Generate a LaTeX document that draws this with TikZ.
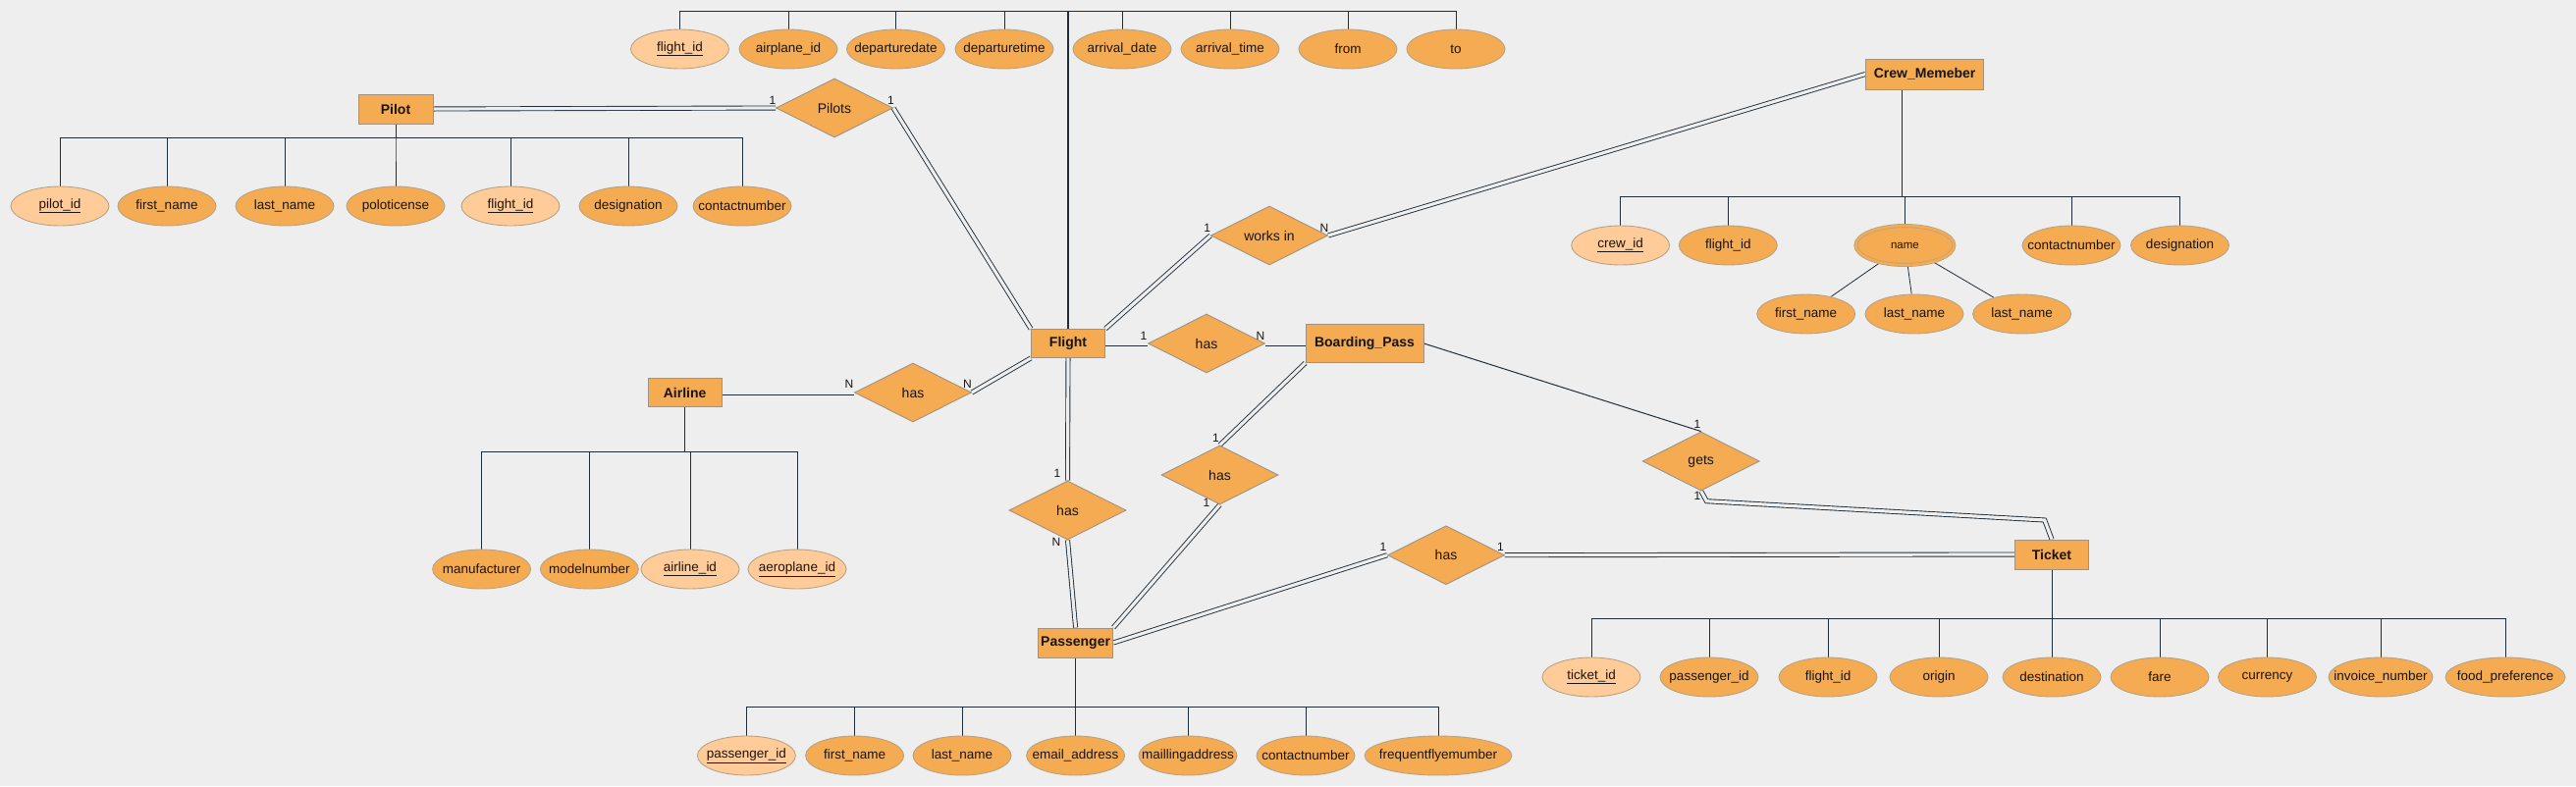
\documentclass[tikz,border=0pt]{standalone}
\usepackage{fontspec}
\setmainfont{Liberation Sans}
\usetikzlibrary{shapes.geometric}
\pgfdeclarelayer{back}
\pgfdeclarelayer{edges}
\pgfsetlayers{back,edges,main}
\definecolor{bgc}{HTML}{EEEEEE}
\definecolor{attrc}{HTML}{F4AB51}
\definecolor{keyc}{HTML}{FFCC99}
\definecolor{boxc}{HTML}{A09282}
\definecolor{ellc}{HTML}{B8A284}
\definecolor{linec}{HTML}{1F2D3A}
\definecolor{txtc}{HTML}{1A1410}
\newcommand\attrtxt[1]{\makebox[0pt]{#1}}
\tikzset{
  entity/.style={draw=boxc, fill=attrc, rectangle, inner sep=0pt, line width=0.9pt,
    font=\fontsize{14}{16}\selectfont\bfseries, text=txtc},
  rel/.style={draw=boxc, fill=attrc, diamond, aspect=2, inner sep=0pt, line width=0.9pt,
    minimum width=119pt, minimum height=60pt, font=\fontsize{14}{16}\selectfont, text=txtc},
  attr/.style={draw=ellc, fill=attrc, ellipse, inner sep=0pt, line width=0.9pt,
    minimum width=100pt, minimum height=40pt, font=\fontsize{13.5}{16}\selectfont, text=txtc},
  key/.style={attr, fill=keyc},
  card/.style={inner sep=0pt, font=\fontsize{12}{14}\selectfont, text=txtc},
  dbl/.style={draw=linec, line width=0.9pt, double=bgc, double distance=3.2pt},
  sgl/.style={draw=linec, line width=1pt},
}
\begin{document}
\begin{tikzpicture}[x=1pt,y=-1pt]
\begin{pgfonlayer}{back}
\fill[bgc] (0,0) rectangle (2624,801);
\end{pgfonlayer}
\useasboundingbox (0,0) rectangle (2624,801);

% ---------- entities ----------
\node[entity, minimum width=76pt, minimum height=30pt] (pilot) at (403,111) {Pilot};
\node[entity, minimum width=75pt, minimum height=29pt] (flight) at (1088,350) {Flight};
\node[entity, minimum width=120pt, minimum height=31pt] (crew) at (1960.6,75.5) {Crew\_Memeber};
\node[entity, minimum width=75pt, minimum height=29pt] (airline) at (697.6,400) {Airline};
\node[entity, minimum width=120pt, minimum height=39pt] (bpass) at (1390,350) {Boarding\_Pass};
\node[entity, minimum width=76pt, minimum height=30pt] (pass) at (1095.6,655) {Passenger};
\node[entity, minimum width=75pt, minimum height=30pt] (ticket) at (2090,565) {Ticket};

% ---------- relationships ----------
\node[rel] (pilots) at (850,110) {Pilots};
\node[rel] (worksin) at (1293,240) {works in};
\node[rel] (hasfb) at (1229,350) {has};
\node[rel] (hasaf) at (930,400) {has};
\node[rel] (hasfp) at (1087.5,520) {has};
\node[rel] (hasbp) at (1242.5,484) {has};
\node[rel] (gets) at (1732.7,470) {gets};
\node[rel] (haspt) at (1473,565.7) {has};

% ---------- flight attributes ----------
\node[key]  (fa0) at (692.5,50) {\attrtxt{\underline{flight\_id}}};
\node[attr] (fa1) at (803,50) {\attrtxt{airplane\_id}};
\node[attr] (fa2) at (912.5,50) {\attrtxt{departuredate}};
\node[attr] (fa3) at (1023,50) {\attrtxt{departuretime}};
\node[attr] (fa4) at (1143,50) {\attrtxt{arrival\_date}};
\node[attr] (fa5) at (1253,50) {\attrtxt{arrival\_time}};
\node[attr] (fa6) at (1373,50) {\attrtxt{from}};
\node[attr] (fa7) at (1483,50) {\attrtxt{to}};

% ---------- pilot attributes ----------
\node[key]  (pa0) at (61,210) {\attrtxt{\underline{pilot\_id}}};
\node[attr] (pa1) at (170,210) {\attrtxt{first\_name}};
\node[attr] (pa2) at (290,210) {\attrtxt{last\_name}};
\node[attr] (pa3) at (403,210) {\attrtxt{poloticense}};
\node[key]  (pa4) at (520,210) {\attrtxt{\underline{flight\_id}}};
\node[attr] (pa5) at (640,210) {\attrtxt{designation}};
\node[attr] (pa6) at (756,210) {\attrtxt{contactnumber}};

% ---------- crew attributes ----------
\node[key]  (ca0) at (1650.7,250) {\attrtxt{\underline{crew\_id}}};
\node[attr] (ca1) at (1760.3,250) {\attrtxt{flight\_id}};
\node[attr, minimum width=100pt, double=attrc, double distance=2.4pt, line width=0.8pt] (ca2) at (1940.4,250) {\attrtxt{\fontsize{11.5}{13}\selectfont name}};
\node[attr] (ca3) at (2110,250) {\attrtxt{contactnumber}};
\node[attr] (ca4) at (2220.5,250) {\attrtxt{designation}};
\node[attr] (cn0) at (1839.7,320) {\attrtxt{first\_name}};
\node[attr] (cn1) at (1950,320) {\attrtxt{last\_name}};
\node[attr] (cn2) at (2059.6,320) {\attrtxt{last\_name}};

% ---------- airline attributes ----------
\node[attr] (aa0) at (490.6,580) {\attrtxt{manufacturer}};
\node[attr] (aa1) at (600.4,580) {\attrtxt{modelnumber}};
\node[key]  (aa2) at (703,580) {\attrtxt{\underline{airline\_id}}};
\node[key]  (aa3) at (812,580) {\attrtxt{\underline{aeroplane\_id}}};

% ---------- passenger attributes ----------
\node[key]  (sa0) at (760.4,770) {\attrtxt{\underline{passenger\_id}}};
\node[attr] (sa1) at (870.6,770) {\attrtxt{first\_name}};
\node[attr] (sa2) at (980,770) {\attrtxt{last\_name}};
\node[attr] (sa3) at (1095.6,770) {\attrtxt{email\_address}};
\node[attr] (sa4) at (1210,770) {\attrtxt{maillingaddress}};
\node[attr] (sa5) at (1330,770) {\attrtxt{contactnumber}};
\node[attr, minimum width=150pt] (sa6) at (1465,770) {\attrtxt{frequentflyemumber}};

% ---------- ticket attributes ----------
\node[key]  (ta0) at (1621,690) {\attrtxt{\underline{ticket\_id}}};
\node[attr] (ta1) at (1741,690) {\attrtxt{passenger\_id}};
\node[attr] (ta2) at (1862,690) {\attrtxt{flight\_id}};
\node[attr] (ta3) at (1975,690) {\attrtxt{origin}};
\node[attr] (ta4) at (2090,690) {\attrtxt{destination}};
\node[attr] (ta5) at (2200,690) {\attrtxt{fare}};
\node[attr] (ta6) at (2309.5,690) {\attrtxt{currency}};
\node[attr, minimum width=106pt] (ta7) at (2425,690) {\attrtxt{invoice\_number}};
\node[attr, minimum width=122pt] (ta8) at (2552,690) {\attrtxt{food\_preference}};

% ---------- cardinalities ----------
\node[card] (k1) at (787,102) {1};
\node[card] (k2) at (907.4,102) {1};
\node[card] (k3) at (1229.6,232) {1};
\node[card] (k4) at (1349,232) {N};
\node[card] (k5) at (1165,342) {1};
\node[card] (k6) at (1284,342) {N};
\node[card] (k7) at (865,391) {N};
\node[card] (k8) at (985.5,391) {N};
\node[card] (k9) at (1077,482) {1};
\node[card] (k10) at (1076,552) {N};
\node[card] (k11) at (1238.5,446) {1};
\node[card] (k12) at (1229,512) {1};
\node[card] (k13) at (1729,432) {1};
\node[card] (k14) at (1729,505) {1};
\node[card] (k15) at (1409,557) {1};
\node[card] (k16) at (1528.5,557) {1};

% ---------- bus coordinates ----------
\coordinate (fbus) at (0,11);
\coordinate (pbus) at (0,140);
\coordinate (cbus) at (0,200);
\coordinate (abus) at (0,460);
\coordinate (sbus) at (0,720);
\coordinate (tbus) at (0,630);
\coordinate (crewtap) at (1937.7,91);
\coordinate (g1) at (1738.4,510.7);
\coordinate (g2) at (2082.7,530);

\begin{pgfonlayer}{edges}
% attribute trees
\draw[sgl, line width=1.8pt] (flight.north) -- (fbus -| flight.north);
\foreach \a in {fa0,fa1,fa2,fa3,fa4,fa5,fa6,fa7}
  \draw[sgl] (flight.north) |- (fbus -| \a.north) -- (\a.north);
\foreach \a in {pa0,pa1,pa2,pa3,pa4,pa5,pa6}
  \draw[sgl] (pilot.south) |- (pbus -| \a.north) -- (\a.north);
\foreach \a in {ca0,ca1,ca2,ca3,ca4}
  \draw[sgl] (crewtap) |- (cbus -| \a.north) -- (\a.north);
\foreach \a in {cn0,cn1,cn2}
  \draw[sgl, line width=0.8pt] (ca2) -- (\a);
\foreach \a in {aa0,aa1,aa2,aa3}
  \draw[sgl] (airline.south) |- (abus -| \a.north) -- (\a.north);
\foreach \a in {sa0,sa1,sa2,sa3,sa4,sa5,sa6}
  \draw[sgl] (pass.south) |- (sbus -| \a.north) -- (\a.north);
\foreach \a in {ta0,ta1,ta2,ta3,ta4,ta5,ta6,ta7,ta8}
  \draw[sgl] (ticket.south) |- (tbus -| \a.north) -- (\a.north);

% relationship connectors
\draw[dbl] (pilot.east) -- (pilots.west);
\draw[dbl] (pilots.east) -- (flight.north west);
\draw[dbl] (flight.north east) -- (worksin.west);
\draw[dbl] (worksin.east) -- (crew.west);
\draw[dbl] (flight.east) -- (hasfb.west);
\draw[dbl] (hasfb.east) -- (bpass.west);
\draw[dbl] (airline.east) -- (hasaf.west);
\draw[dbl] (hasaf.east) -- (flight.south west);
\draw[dbl] (flight.south) -- (hasfp.north);
\draw[dbl] (hasfp.south) -- (pass.north);
\draw[dbl] (bpass.south west) -- (hasbp.north);
\draw[dbl] (hasbp.south) -- (pass.north east);
\draw[dbl] (pass.east) -- (haspt.west);
\draw[dbl] (haspt.east) -- (ticket.west);
\draw[sgl] (bpass.east) -- (gets.north);
\draw[dbl] (gets.south) -- (g1) -- (g2) -- (ticket.north);
\end{pgfonlayer}
\end{tikzpicture}
\end{document}
